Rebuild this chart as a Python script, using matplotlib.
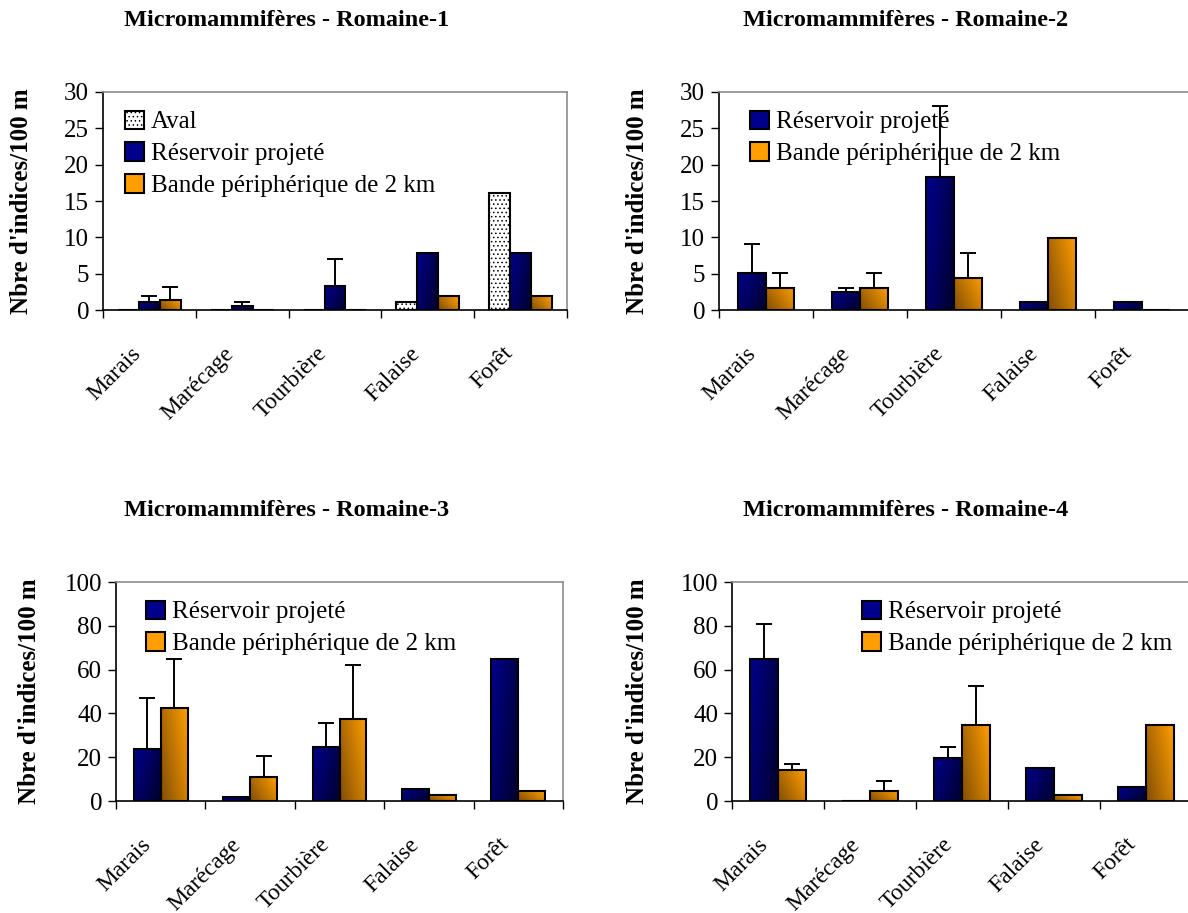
import numpy as np
import matplotlib
matplotlib.use("Agg")
import matplotlib.pyplot as plt
from matplotlib.patches import Rectangle

plt.rcParams['font.family'] = ['Liberation Serif', 'DejaVu Serif']
plt.rcParams['hatch.linewidth'] = 0.6

categories = ["Marais", "Marécage", "Tourbière", "Falaise", "Forêt"]
titles = ["Micromammifères - Romaine-1", "Micromammifères - Romaine-2",
          "Micromammifères - Romaine-3", "Micromammifères - Romaine-4"]
ylabel = "Nbre d'indices/100 m"
lab_aval = "Aval"
lab_res = "Réservoir projeté"
lab_bande = "Bande périphérique de 2 km"

# Romaine-1
r1_aval = [0, 0, 0, 1.05, 16.05]
r1_res = [1.1, 0.55, 3.35, 7.9, 7.9]
r1_res_err = [0.8, 0.5, 3.65, 0, 0]
r1_bande = [1.4, 0, 0, 1.9, 1.9]
r1_bande_err = [1.7, 0, 0, 0, 0]

# Romaine-2
r2_res = [5.1, 2.5, 18.3, 1.1, 1.1]
r2_res_err = [3.95, 0.55, 9.75, 0, 0]
r2_bande = [3.05, 3.05, 4.45, 9.9, 0]
r2_bande_err = [2.05, 2.05, 3.45, 0, 0]

# Romaine-3
r3_res = [23.7, 1.8, 24.5, 5.5, 64.9]
r3_res_err = [23.5, 0, 11.2, 0, 0]
r3_bande = [42.3, 11.0, 37.5, 2.75, 4.6]
r3_bande_err = [22.6, 9.6, 24.5, 0, 0]

# Romaine-4
r4_res = [64.9, 0, 19.7, 15.0, 6.6]
r4_res_err = [16.1, 0, 4.8, 0, 0]
r4_bande = [14.05, 4.6, 34.8, 2.6, 34.8]
r4_bande_err = [2.95, 4.7, 17.9, 0, 0]

BLUE = (np.array([0, 0, 140]) / 255, np.array([0, 0, 45]) / 255)
ORANGE = (np.array([255, 158, 0]) / 255, np.array([130, 78, 5]) / 255)

W, H = 1188, 913
fig = plt.figure(figsize=(W / 100, H / 100), dpi=100)


def px_axes(l, t, r, b):
    return fig.add_axes([l / W, 1 - b / H, (r - l) / W, (b - t) / H])


def gradient(ax, bars, cols, dark_right):
    light, dark = cols
    U, V = np.meshgrid(np.linspace(0, 1, 30), np.linspace(0, 1, 60))
    t = (0.65 * U if dark_right else 0.65 * (1 - U)) + 0.35 * V
    rgb = light[None, None, :] * (1 - t[..., None]) + dark[None, None, :] * t[..., None]
    for b in bars:
        h = b.get_height()
        if h <= 0:
            continue
        x0 = b.get_x()
        ax.imshow(rgb, extent=(x0, x0 + b.get_width(), 0, h), aspect='auto',
                  origin='upper', interpolation='bilinear', zorder=2)


def series(ax, x, vals, err, cols, dark_right, width):
    bars = ax.bar(x, vals, width, color=cols[0], linewidth=0, zorder=1.5)
    gradient(ax, bars, cols, dark_right)
    ax.bar(x, vals, width, facecolor='none', edgecolor='black', linewidth=1.5, zorder=3)
    err = np.asarray(err, float)
    m = err > 0
    if m.any():
        ax.errorbar(np.asarray(x)[m], np.asarray(vals)[m], yerr=[np.zeros(m.sum()), err[m]],
                    fmt='none', ecolor='black', elinewidth=1.4, capsize=5.5, capthick=1.4, zorder=6)


def style(ax, ymax, ystep, lab_shift=-0.14):
    ax.set_xlim(-0.5, 4.5)
    ax.set_ylim(0, ymax)
    ax.set_yticks(np.arange(0, ymax + 1, ystep))
    ax.tick_params(axis='y', direction='out', length=6, width=1, pad=4, labelsize=18)
    ax.set_xticks(np.arange(-0.5, 5, 1), minor=True)
    ax.tick_params(axis='x', which='minor', direction='out', length=6, width=1)
    ax.set_xticks(np.arange(5) + lab_shift, categories)
    ax.tick_params(axis='x', which='major', length=0, pad=29, labelsize=17)
    for lab in ax.get_xticklabels():
        lab.set_rotation(45)
        lab.set_ha('right')
        lab.set_va('center')
        lab.set_rotation_mode('anchor')
    for s in ('top', 'right'):
        ax.spines[s].set_color('#8c8c8c')
        ax.spines[s].set_linewidth(1.2)
    for s in ('left', 'bottom'):
        ax.spines[s].set_color('black')
        ax.spines[s].set_linewidth(1.2)
    ax.set_facecolor('white')


def legend(ax, handles, labels, x):
    ax.legend(handles, labels, loc='upper left', bbox_to_anchor=(x, 0.915), frameon=False,
              fontsize=18, borderpad=0, borderaxespad=0, handlelength=0.75, handleheight=0.75,
              handletextpad=0.3, labelspacing=0.36)


h_aval = Rectangle((0, 0), 1, 1, facecolor='white', edgecolor='black', hatch='....', lw=1.5)
h_res = Rectangle((0, 0), 1, 1, facecolor=BLUE[0], edgecolor='black', lw=1.5)
h_bande = Rectangle((0, 0), 1, 1, facecolor=ORANGE[0], edgecolor='black', lw=1.5)

x = np.arange(len(categories))

# Panel 1
ax1 = px_axes(103, 92, 567, 310)
w1 = 0.226
ax1.bar(x - w1, r1_aval, w1, facecolor='white', edgecolor='black', hatch='....',
        linewidth=1.5, zorder=3)
series(ax1, x, r1_res, r1_res_err, BLUE, True, w1)
series(ax1, x + w1, r1_bande, r1_bande_err, ORANGE, False, w1)
style(ax1, 30, 5, -0.12)
legend(ax1, [h_aval, h_res, h_bande], [lab_aval, lab_res, lab_bande], 0.047)

# Panel 2
ax2 = px_axes(719, 92, 1189, 310)
w2 = 0.3
series(ax2, x - w2 / 2, r2_res, r2_res_err, BLUE, True, w2)
series(ax2, x + w2 / 2, r2_bande, r2_bande_err, ORANGE, False, w2)
style(ax2, 30, 5)
legend(ax2, [h_res, h_bande], [lab_res, lab_bande], 0.066)

# Panel 3
ax3 = px_axes(116, 582, 563, 801)
series(ax3, x - w2 / 2, r3_res, r3_res_err, BLUE, True, w2)
series(ax3, x + w2 / 2, r3_bande, r3_bande_err, ORANGE, False, w2)
style(ax3, 100, 20)
legend(ax3, [h_res, h_bande], [lab_res, lab_bande], 0.067)

# Panel 4
ax4 = px_axes(732, 582, 1192, 801)
series(ax4, x - w2 / 2, r4_res, r4_res_err, BLUE, True, w2)
series(ax4, x + w2 / 2, r4_bande, r4_bande_err, ORANGE, False, w2)
style(ax4, 100, 20)
legend(ax4, [h_res, h_bande], [lab_res, lab_bande], 0.283)

# titles and y labels
for tx, ty, t in [(287, 20, titles[0]), (906, 20, titles[1]),
                  (287, 510, titles[2]), (906, 510, titles[3])]:
    fig.text(tx / W, 1 - ty / H, t, ha='center', va='center', fontsize=17.5, fontweight='bold')
for lx, ly in [(22, 201), (637, 201), (30, 691), (637, 691)]:
    fig.text(lx / W, 1 - ly / H, ylabel, rotation=90, ha='center', va='center',
             fontsize=18, fontweight='bold')

fig.savefig("out.png", dpi=100)
